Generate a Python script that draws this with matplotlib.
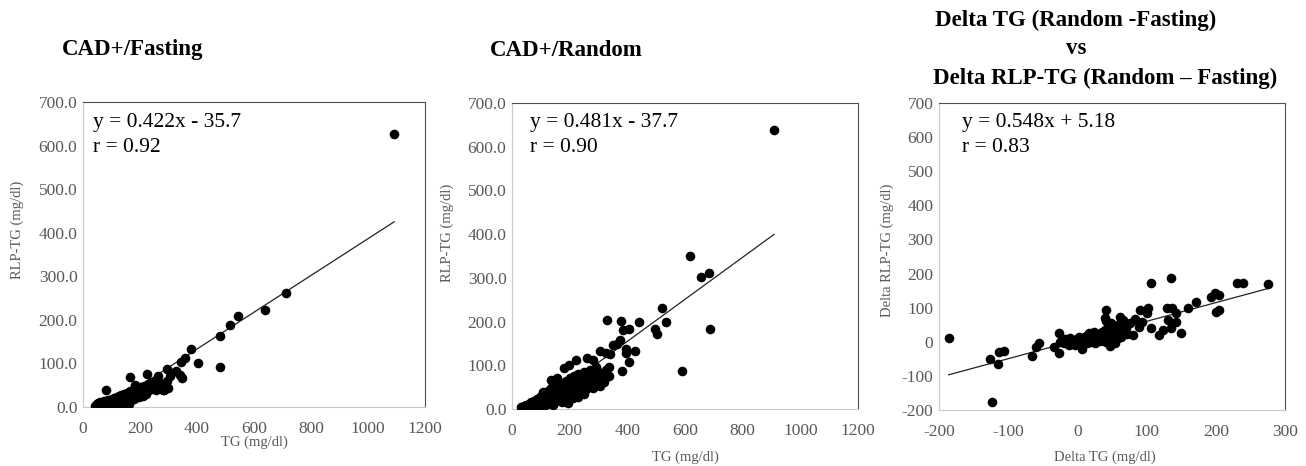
import numpy as np
import matplotlib
matplotlib.use("Agg")
import matplotlib.pyplot as plt

plt.rcParams['font.family'] = ['Liberation Serif', 'DejaVu Serif']
plt.rcParams['axes.unicode_minus'] = False

# CAD+/Fasting : TG vs RLP-TG (mg/dl)
fast_tg = [42, 45, 48, 50, 52, 55, 58, 60, 62, 65, 68, 70, 72, 75, 78, 80, 82, 85, 88, 90,
           92, 95, 98, 100, 103, 105, 108, 110, 112, 115, 118, 120, 122, 125, 128, 130, 132, 135,
           138, 140, 142, 145, 148, 150, 152, 155, 158, 160, 162, 165, 168, 170, 172, 175, 178,
           180, 185, 188, 190, 195, 198, 200, 205, 208, 210, 215, 218, 220, 225, 228, 232, 235,
           240, 245, 250, 255, 260, 265, 270, 275, 285, 290, 295,
           82, 164, 181, 226, 263, 281, 298, 304, 310, 328, 340, 349, 293, 343, 357, 378, 403,
           482, 480, 517, 543, 640, 712, 1092]
fast_rlp = [3, 5, 8, 2, 10, 6, 4, 12, 7, 9, 5, 11, 8, 14, 6, 10, 13, 8, 15, 11,
            6, 16, 12, 9, 18, 14, 10, 20, 16, 12, 22, 8, 18, 25, 14, 3, 20, 28,
            16, 10, 24, 30, 18, 13, 26, 33, 20, 8, 28, 36, 22, 15, 30, 38, 25,
            18, 33, 42, 28, 36, 22, 45, 32, 40, 26, 48, 35, 30, 42, 52, 38, 46,
            58, 44, 52, 40, 62, 50, 56, 45, 40, 48, 60,
            40, 69, 51, 76, 72, 38, 43, 72, 79, 82, 74, 66, 87, 103, 112, 134, 102,
            91, 162, 188, 210, 223, 261, 627]

# CAD+/Random
rand_tg = [30, 35, 40, 42, 45, 50, 55, 58, 60, 65, 68, 70, 75, 78, 80, 85, 88, 90, 95, 98,
           100, 102, 105, 108, 110, 112, 115, 118, 120, 122, 125, 128, 130, 132, 135, 138, 140,
           142, 145, 148, 150, 152, 155, 158, 160, 162, 165, 168, 170, 172, 175, 178, 180, 182,
           185, 188, 190, 192, 195, 198, 200, 202, 205, 208, 210, 212, 215, 218, 220, 222, 225,
           228, 230, 235, 238, 240, 245, 248, 250, 255, 258, 260, 265, 270, 275, 280, 285, 290,
           295, 300, 305, 310, 318, 325,
           134, 155, 181, 195, 197, 222, 259, 282, 293, 316, 335, 335, 305, 326, 340, 349, 363,
           376, 381, 396, 397, 379, 386, 406, 405, 427, 441, 331, 495, 502, 521, 535, 591, 618,
           654, 683, 688, 909]
rand_rlp = [5, 3, 8, 2, 6, 10, 4, 12, 7, 15, 9, 5, 18, 12, 8, 22, 14, 6, 25, 18,
            10, 30, 15, 40, 22, 8, 35, 18, 28, 12, 42, 25, 32, 15, 48, 22, 35,
            10, 55, 28, 40, 18, 62, 32, 45, 22, 50, 30, 38, 15, 58, 42, 28, 52,
            35, 65, 45, 22, 55, 38, 70, 48, 30, 60, 42, 25, 75, 52, 36, 65, 45,
            28, 80, 58, 40, 68, 50, 35, 85, 62, 45, 72, 55, 90, 65, 48, 78, 58,
            88, 70, 52, 82, 62, 90,
            66, 72, 94, 13, 100, 113, 116, 112, 97, 74, 97, 76, 133, 127, 125, 146, 149,
            158, 87, 138, 127, 202, 180, 183, 107, 132, 199, 204, 182, 171, 232, 198, 87, 350,
            302, 312, 184, 638]

# Delta (Random - Fasting)
delta_tg = [-25, -22, -20, -18, -15, -12, -10, -8, -5, -3, 0, 2, 3, 5, 6, 8, 10, 12, 14, 15,
            17, 18, 20, 22, 24, 25, 27, 28, 30, 32, 33, 35, 36, 38, 39, 40, 40, 41, 42, 43, 44,
            45, 46, 47, 48, 49, 50, 51, 52, 53, 54, 55, 56, 57, 58, 59, 60, 62, 63, 65, 67, 68,
            70, 72,
            -186, -126, -123, -115, -113, -106, -66, -60, -56, -34, -27, -27,
            107, 135, 275, 231, 240, 193, 199, 204, 201, 205, 171, 160, 143, 137, 129, 131,
            143, 135, 150, 118, 124, 107, 102, 90, 101, 93, 89, 81, 83, 76, 66, 61, 41, 43, 47]
delta_rlp = [0, 5, -5, 8, 2, -8, 10, 0, 5, -10, 8, -3, 15, 0, -20, 10, 3, 18, -5, 8,
             25, 0, 12, 5, 30, -3, 15, 8, 22, 2, 12, 28, 5, 18, 10, 70, 35, -2, 60, 22, 15,
             45, 30, 5, 55, 20, 38, 12, 48, 28, -5, 40, 18, 32, 50, 10, 25, 42, 15, 35, 48, 28,
             40, 22,
             10, -51, -176, -66, -31, -26, -41, -15, -5, -15, 27, -32,
             173, 186, 169, 171, 171, 130, 144, 137, 86, 93, 117, 98, 83, 98, 98, 64,
             57, 39, 25, 20, 34, 41, 98, 93, 83, 59, 42, 20, 68, 54, 63, 73, 93, 34, -12]

slopes = [0.422, 0.481, 0.548]
intercepts = [-35.7, -37.7, 5.18]
eq_text = ["y = 0.422x - 35.7", "y = 0.481x - 37.7", "y = 0.548x + 5.18"]
r_text = ["r = 0.92", "r = 0.90", "r = 0.83"]

W, H = 1306, 466
fig = plt.figure(figsize=(W / 100, H / 100), dpi=100)


def ftext(px, py, s, **kw):
    fig.text(px / W, 1 - py / H, s, **kw)


# axes boxes in pixels: left, top, right, bottom
boxes = [(83, 102, 425, 407), (512, 103, 858, 409), (939, 103, 1285, 410)]
eq_x = [93, 530, 962]
datasets = [(fast_tg, fast_rlp), (rand_tg, rand_rlp), (delta_tg, delta_rlp)]
xlims = [(0, 1200), (0, 1200), (-200, 300)]
ylims = [(0, 700), (0, 700), (-200, 700)]
gray = '#595959'

for i, (l, t, r, b) in enumerate(boxes):
    ax = fig.add_axes([l / W, 1 - b / H, (r - l) / W, (b - t) / H])
    x, y = datasets[i]
    ax.scatter(x, y, s=48, color='black', zorder=3, linewidths=0)
    xs = np.array([min(x), max(x)])
    ax.plot(xs, slopes[i] * xs + intercepts[i], color='#222222', lw=0.9, zorder=2)
    ax.set_xlim(*xlims[i])
    ax.set_ylim(*ylims[i])
    ax.set_xticks(np.arange(xlims[i][0], xlims[i][1] + 1, 200 if i < 2 else 100))
    yt = np.arange(ylims[i][0], ylims[i][1] + 1, 100)
    ax.set_yticks(yt)
    if i < 2:
        ax.set_yticklabels([f"{v:.1f}" for v in yt])
    ax.tick_params(length=0, labelsize=12.5, colors=gray)
    ax.tick_params(axis='x', pad=10)
    ax.tick_params(axis='y', pad=4)
    for s in ['left', 'bottom']:
        ax.spines[s].set_color('#c8c8c8')
    for s in ['top', 'right']:
        ax.spines[s].set_color('#505050')
    ftext(eq_x[i], 123, eq_text[i], fontsize=15.5, va='center', ha='left')
    ftext(eq_x[i], 147, r_text[i], fontsize=15.5, va='center', ha='left')

ftext(62, 50, "CAD+/Fasting", fontsize=16.5, fontweight='bold', va='center')
ftext(490, 50, "CAD+/Random", fontsize=16.5, fontweight='bold', va='center')
ftext(1076, 20, "Delta TG (Random -Fasting)", fontsize=16.5, fontweight='bold', va='center', ha='center')
ftext(1076, 48, "vs", fontsize=16.5, fontweight='bold', va='center', ha='center')
ftext(1105, 78, "Delta RLP-TG (Random \u2013 Fasting)", fontsize=16.5, fontweight='bold',
      va='center', ha='center')

lab = dict(fontsize=10.5, color=gray, va='center', ha='center')
ftext(254, 442, "TG (mg/dl)", **lab)
ftext(685, 457, "TG (mg/dl)", **lab)
ftext(1105, 457, "Delta TG (mg/dl)", **lab)
ftext(17, 230, "RLP-TG (mg/dl)", rotation=90, **lab)
ftext(447, 233, "RLP-TG (mg/dl)", rotation=90, **lab)
ftext(887, 250, "Delta RLP-TG (mg/dl)", rotation=90, **lab)

fig.savefig("out.png", dpi=100)
